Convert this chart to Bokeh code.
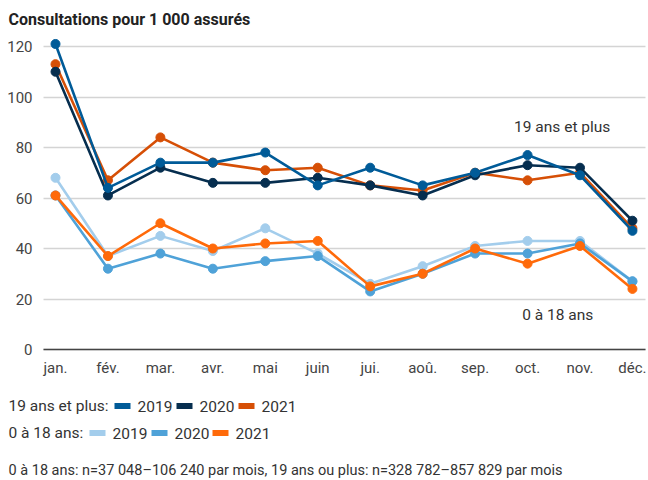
from bokeh.plotting import figure
from bokeh.models import Range1d, FixedTicker
from bokeh.embed import file_html
from bokeh.resources import INLINE
from bokeh.core.properties import value

# ---------------- data ----------------
months = ["jan.", "fév.", "mar.", "avr.", "mai", "juin", "jui.", "aoû.", "sep.", "oct.", "nov.", "déc."]
adult_2019 = [121, 64, 74, 74, 78, 65, 72, 65, 70, 77, 69, 47]
adult_2020 = [110, 61, 72, 66, 66, 68, 65, 61, 69, 73, 72, 51]
adult_2021 = [113, 67, 84, 74, 71, 72, 65, 63, 70, 67, 70, 48]
child_2019 = [68, 37, 45, 39, 48, 38, 26, 33, 41, 43, 43, 27]
child_2020 = [61, 32, 38, 32, 35, 37, 23, 30, 38, 38, 42, 27]
child_2021 = [61, 37, 50, 40, 42, 43, 25, 30, 40, 34, 41, 24]
y_ticks = [0, 20, 40, 60, 80, 100, 120]
years = ["2019", "2020", "2021"]

title_text = "Consultations pour 1 000 assurés"
adult_label = "19 ans et plus"
child_label = "0 à 18 ans"
footnote = "0 à 18 ans: n=37 048\u2013106 240 par mois, 19 ans ou plus: n=328 782\u2013857 829 par mois"

# ---------------- style / layout (pixels) ----------------
FONT = "Roboto"
C_A19, C_A20, C_A21 = "#005b98", "#062e4f", "#d64f06"
C_C19, C_C20, C_C21 = "#a3cdec", "#4fa2d8", "#ff6a0a"
TXT = "#333333"
W, H = 648, 480
PX_JAN, PX_PER_MONTH = 55.0, 52.45     # pixel x of first month, pixels per month
PY_ZERO, PX_PER_UNIT = 349.0, 2.525    # pixel y of value 0, pixels per unit
PLOT_L, PLOT_R = 43, 645               # plot area left/right (pixels)

def xd(px):
    return (px - PX_JAN) / PX_PER_MONTH

def yd(py):
    return (PY_ZERO - py) / PX_PER_UNIT

n = len(months)
xs = list(range(n))
p = figure(width=W, height=H, x_range=Range1d(xd(0), xd(W)), y_range=Range1d(yd(H), yd(0)),
           output_backend="svg", toolbar_location=None, min_border=0)
p.outline_line_color = None
p.background_fill_color = "white"
p.border_fill_color = "white"

# axes drawn inside the canvas at fixed locations
p.xaxis.fixed_location = 0
p.xaxis.bounds = (xd(PLOT_L), xd(PLOT_R))
p.yaxis.fixed_location = xd(PLOT_L)
p.yaxis.bounds = (min(y_ticks), max(y_ticks))
p.xaxis.ticker = FixedTicker(ticks=xs)
p.xaxis.major_label_overrides = {i: m for i, m in enumerate(months)}
p.yaxis.ticker = FixedTicker(ticks=y_ticks)
for ax in (p.xaxis, p.yaxis):
    ax.major_tick_line_color = None
    ax.minor_tick_line_color = None
    ax.major_label_text_font = FONT
    ax.major_label_text_font_size = "15px"
    ax.major_label_text_color = "#444444"
p.yaxis.axis_line_color = None
p.yaxis.major_label_standoff = 5
p.xaxis.axis_line_color = "#444444"
p.xaxis.axis_line_width = 1.6
p.xaxis.major_label_standoff = 3

# grid lines
p.xgrid.visible = False
p.ygrid.ticker = FixedTicker(ticks=y_ticks)
p.ygrid.grid_line_color = "#d4d4d4"
p.ygrid.grid_line_width = 1.3
try:
    p.ygrid.cross_bounds = (xd(PLOT_L), xd(PLOT_R))
except Exception:
    p.ygrid.visible = False
    p.segment(x0=[xd(PLOT_L)] * len(y_ticks), x1=[xd(PLOT_R)] * len(y_ticks),
              y0=y_ticks, y1=y_ticks, line_color="#d4d4d4", line_width=1.3)

series = [
    (adult_2021, C_A21), (adult_2020, C_A20), (adult_2019, C_A19),
    (child_2019, C_C19), (child_2020, C_C20), (child_2021, C_C21),
]
for ys, col in series:
    p.line(xs, ys, line_color=col, line_width=2.6)
    p.scatter(xs, ys, size=9, fill_color=col, line_color=col)

def txt(px, py, s, size="15.5px", align="left", bold=False, color=TXT):
    p.text(x=[xd(px)], y=[yd(py)], text=[s], text_font=value(FONT), text_font_size=size,
           text_align=align, text_baseline="middle", text_color=color,
           text_font_style="bold" if bold else "normal")

# series annotations
txt(561.7, 126.2, adult_label, align="center")
txt(557.2, 314.7, child_label, align="center")

# title
txt(8, 19, title_text, size="16px", bold=True, color="#222222")

# legend rows
def legend_row(cy, label, swatch_lefts, colors):
    txt(8, cy, label + ":")
    p.rect(x=[xd(sx + 8) for sx in swatch_lefts], y=[yd(cy)] * 3, width=16, height=6,
           width_units="screen", height_units="screen", fill_color=colors, line_color=None)
    for sx, yr in zip(swatch_lefts, years):
        txt(sx + 23, cy, yr)

legend_row(405.5, adult_label + " et plus" if False else "19 ans et plus", [114, 176, 238],
           [C_A19, C_A20, C_A21])
legend_row(432.5, child_label, [89, 151, 212], [C_C19, C_C20, C_C21])

# footnote
txt(8, 469.5, footnote, size="14.5px")

open("out.html", "w").write(file_html(p, INLINE))
